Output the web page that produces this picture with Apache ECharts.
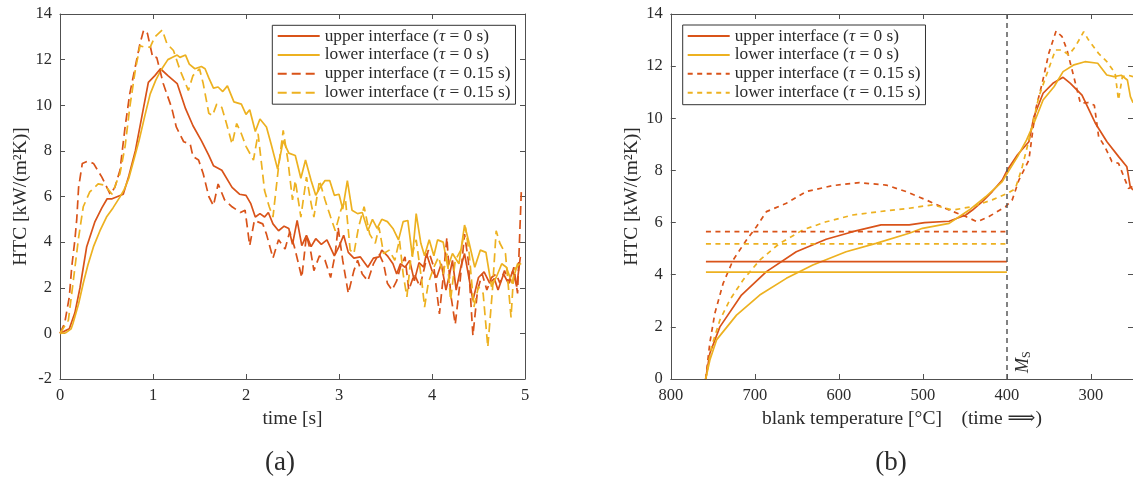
<!DOCTYPE html>
<html>
<head>
<meta charset="utf-8">
<script src="https://cdn.jsdelivr.net/npm/echarts@6/dist/echarts.min.js"></script>
<style>
  html, body { margin: 0; padding: 0; background: #fff; }
  #chart { width: 1133px; height: 483px; }
</style>
</head>
<body>
<div id="chart"></div>
<script>
// ---- (a) HTC over time, [time s, HTC kW/(m²K)] ----
const timeUpper0 = [[0,0],[0.1,0.2],[0.16,0.9],[0.215,2.0],[0.287,3.8],[0.376,4.9],[0.45,5.5],[0.507,5.9],[0.56,5.9],[0.62,6.0],[0.68,6.1],[0.74,6.9],[0.81,8.0],[0.88,9.5],[0.95,11.0],[1.02,11.3],[1.08,11.6],[1.16,11.3],[1.26,10.95],[1.35,9.85],[1.43,9.1],[1.52,8.45],[1.6,7.8],[1.65,7.35],[1.74,7.15],[1.85,6.4],[1.93,6.1],[2.0,6.05],[2.05,5.7],[2.1,5.1],[2.15,5.25],[2.2,5.1],[2.24,5.3],[2.29,4.8],[2.35,4.5],[2.41,4.7],[2.46,4.6],[2.5,3.9],[2.55,4.95],[2.6,3.85],[2.65,4.3],[2.7,3.8],[2.75,4.15],[2.81,3.9],[2.87,4.1],[2.95,3.4],[3.0,3.8],[3.05,4.3],[3.1,3.55],[3.16,3.3],[3.23,3.35],[3.31,2.9],[3.37,3.3],[3.43,3.35],[3.46,3.65],[3.52,3.4],[3.58,3.05],[3.62,2.6],[3.66,3.05],[3.71,2.9],[3.76,3.2],[3.81,2.3],[3.86,3.1],[3.91,2.9],[3.94,3.5],[4.0,2.75],[4.05,2.45],[4.1,3.05],[4.15,1.9],[4.19,2.6],[4.22,3.2],[4.26,1.9],[4.31,2.9],[4.35,3.5],[4.39,2.6],[4.44,1.45],[4.5,2.45],[4.56,2.7],[4.62,2.2],[4.67,2.4],[4.71,1.9],[4.77,2.6],[4.82,2.2],[4.87,2.75],[4.91,2.05],[4.95,3.35]];

const timeLower0 = [[0,0],[0.06,0.02],[0.12,0.2],[0.14,0.44],[0.2,1.3],[0.25,2.2],[0.3,3.0],[0.36,3.8],[0.43,4.5],[0.5,5.1],[0.57,5.5],[0.64,5.95],[0.69,6.3],[0.74,6.8],[0.8,7.7],[0.85,8.45],[0.91,9.5],[0.97,10.5],[1.03,11.1],[1.08,11.5],[1.16,12.0],[1.21,12.1],[1.26,12.2],[1.29,12.1],[1.35,12.2],[1.39,11.8],[1.45,11.6],[1.52,11.7],[1.56,11.6],[1.6,11.2],[1.65,10.75],[1.7,10.8],[1.75,10.6],[1.8,10.85],[1.87,10.15],[1.95,10.05],[2.0,9.6],[2.04,9.8],[2.1,8.85],[2.15,9.4],[2.22,9.05],[2.27,8.3],[2.34,7.2],[2.4,8.45],[2.46,7.9],[2.53,7.8],[2.59,6.8],[2.64,7.6],[2.7,6.7],[2.75,6.05],[2.79,6.35],[2.85,6.7],[2.9,6.7],[2.95,6.05],[3.0,6.1],[3.04,5.45],[3.09,6.7],[3.14,5.4],[3.2,5.25],[3.25,5.3],[3.31,4.5],[3.36,5.0],[3.41,4.6],[3.46,5.0],[3.52,4.9],[3.58,4.6],[3.64,4.1],[3.69,4.9],[3.74,4.95],[3.79,3.35],[3.83,5.25],[3.88,3.95],[3.92,3.4],[3.97,4.1],[4.02,3.4],[4.06,4.1],[4.12,4.0],[4.17,2.9],[4.22,3.5],[4.29,3.05],[4.35,4.75],[4.4,3.95],[4.46,2.9],[4.52,3.65],[4.58,3.55],[4.64,2.05],[4.69,2.45],[4.75,3.05],[4.8,2.9],[4.86,2.2],[4.92,3.05],[4.96,3.05]];

const timeUpper015 = [[0,0],[0.05,0.44],[0.1,1.6],[0.126,2.9],[0.16,4.1],[0.18,5.0],[0.2,6.4],[0.24,7.45],[0.3,7.55],[0.36,7.45],[0.45,6.85],[0.54,6.1],[0.59,6.4],[0.645,7.15],[0.7,9.05],[0.75,10.5],[0.81,11.7],[0.86,12.7],[0.9,13.3],[0.94,13.15],[0.997,12.1],[1.04,12.1],[1.11,10.95],[1.2,9.9],[1.25,9.05],[1.33,8.4],[1.4,8.3],[1.43,7.75],[1.49,7.6],[1.54,7.0],[1.6,6.0],[1.65,5.6],[1.7,6.55],[1.77,5.85],[1.85,5.55],[1.94,5.3],[1.99,5.4],[2.04,3.85],[2.09,4.95],[2.18,4.8],[2.22,4.35],[2.29,3.3],[2.35,4.1],[2.42,3.7],[2.47,4.45],[2.52,3.8],[2.6,2.45],[2.65,4.3],[2.7,3.5],[2.73,2.75],[2.79,3.4],[2.85,3.2],[2.91,2.45],[2.96,3.5],[2.99,4.65],[3.04,3.2],[3.1,1.75],[3.16,2.75],[3.2,3.2],[3.25,2.6],[3.31,2.3],[3.37,3.05],[3.43,3.5],[3.48,3.05],[3.52,2.2],[3.57,1.9],[3.62,2.3],[3.66,2.9],[3.71,3.35],[3.75,1.9],[3.81,2.6],[3.87,2.05],[3.92,2.9],[3.96,3.65],[4.02,2.9],[4.08,0.85],[4.12,2.45],[4.16,4.2],[4.2,1.75],[4.25,0.4],[4.3,2.2],[4.35,4.35],[4.39,3.2],[4.44,-0.1],[4.49,1.9],[4.54,2.6],[4.59,1.9],[4.64,2.45],[4.69,2.6],[4.73,2.2],[4.78,2.75],[4.83,2.2],[4.88,2.9],[4.92,1.75],[4.96,6.2]];

const timeLower015 = [[0,0],[0.02,0.05],[0.09,0.57],[0.14,2.2],[0.2,4.2],[0.25,5.55],[0.32,6.2],[0.41,6.55],[0.48,6.5],[0.56,6.1],[0.61,6.65],[0.645,7.0],[0.7,8.2],[0.75,9.9],[0.81,11.55],[0.86,12.6],[0.91,12.55],[0.97,12.55],[1.02,13.0],[1.1,13.3],[1.15,12.7],[1.22,12.4],[1.29,11.55],[1.38,10.65],[1.43,11.3],[1.5,11.6],[1.54,10.95],[1.6,9.65],[1.64,9.55],[1.685,10.05],[1.74,9.9],[1.79,9.2],[1.85,8.3],[1.9,9.2],[1.95,8.75],[2.0,8.2],[2.08,7.6],[2.13,8.75],[2.2,6.25],[2.25,5.55],[2.29,5.1],[2.35,7.3],[2.4,8.9],[2.45,7.6],[2.5,5.85],[2.53,6.7],[2.59,5.1],[2.65,6.85],[2.7,5.7],[2.73,5.1],[2.79,6.7],[2.85,5.85],[2.91,5.1],[2.96,4.5],[3.02,5.4],[3.07,5.85],[3.12,3.65],[3.16,3.5],[3.21,4.65],[3.27,5.55],[3.33,4.35],[3.39,3.95],[3.43,4.65],[3.48,3.5],[3.54,3.65],[3.6,3.2],[3.65,4.1],[3.69,2.6],[3.73,1.6],[3.77,3.2],[3.83,4.1],[3.89,2.3],[3.92,1.15],[3.96,2.2],[4.02,2.9],[4.07,3.35],[4.12,2.6],[4.16,3.5],[4.2,1.45],[4.25,3.2],[4.31,3.65],[4.36,4.65],[4.4,3.5],[4.45,1.15],[4.5,2.05],[4.55,1.75],[4.6,-0.6],[4.65,1.9],[4.69,4.5],[4.73,3.95],[4.79,3.5],[4.85,0.7],[4.88,2.75],[4.94,3.05]];

// ---- (b) HTC over blank temperature, [°C, HTC kW/(m²K)] ----
const tempUpper0 = [[758.5,0],[753.5,0.99],[741.6,2.0],[715.9,3.22],[686.2,4.12],[650.7,4.88],[615.1,5.36],[583.5,5.65],[549.8,5.91],[516.3,5.91],[497.9,6.0],[468.8,6.05],[449,6.29],[441,6.48],[429.3,6.8],[417.5,7.19],[405.6,7.63],[399.5,8.02],[387.4,8.6],[373.9,9.1],[367.9,10.06],[357,10.96],[345.3,11.34],[333.2,11.57],[324.5,11.34],[310.7,10.89],[294.8,9.81],[281,9.1],[267.1,8.53],[257.3,8.14],[253.3,7.38],[250,7.25]];

const tempLower0 = [[758.5,0],[753.5,0.73],[745.6,1.5],[721.8,2.45],[694.2,3.22],[662.5,3.86],[631,4.37],[591.4,4.88],[555.8,5.2],[516.3,5.59],[500.5,5.78],[468.8,5.97],[445,6.48],[425.3,6.99],[405.6,7.57],[399.5,7.9],[387.4,8.53],[376.6,9.17],[367.9,9.81],[357,10.7],[344,11.21],[333.2,11.79],[320.2,12.05],[307.2,12.17],[292,12.11],[281.2,11.66],[272.6,11.6],[264,11.65],[256.7,11.47],[253.1,10.83],[250,10.6]];

const tempUpper015 = [[758.5,0],[753.5,1.4],[747.6,2.52],[737.7,3.67],[725.9,4.56],[710,5.33],[698.1,5.84],[686.2,6.42],[662.5,6.74],[638.8,7.19],[607.2,7.42],[575.6,7.53],[543.9,7.44],[520.2,7.19],[496.4,6.87],[468.8,6.48],[449,6.23],[435.2,6.03],[421.4,6.23],[401.6,6.61],[393.7,6.87],[385.8,7.63],[373.9,8.4],[366,10.32],[358.1,11.34],[350.2,12.49],[341.5,13.35],[334.4,13.13],[328.5,12.62],[320.5,11.6],[312.6,10.58],[303,10.6],[296,10.5],[290.9,9.3],[283,8.88],[275.1,8.34],[267.2,8.27],[259.3,7.63],[255.3,7.31],[250,7.4]];

const tempLower015 = [[758.5,0],[751.5,1.24],[741.6,2.26],[729.8,3.03],[714,3.8],[694.2,4.56],[670.5,5.2],[642.8,5.72],[615.1,6.03],[583.5,6.29],[551.8,6.42],[516.3,6.55],[488.6,6.68],[464.9,6.48],[441.2,6.61],[417.5,6.87],[399.6,7.12],[390,7.3],[381.8,8.14],[371.9,9.42],[362,10.83],[352.2,11.73],[342.3,12.62],[334.4,12.62],[326.5,12.43],[318.6,12.75],[308.7,13.32],[302.8,13.0],[291,12.49],[281.1,12.17],[271.3,11.73],[267.3,10.7],[262.6,11.6],[255.5,11.65],[250,11.6]];

// mean HTC levels up to the martensite start temperature
const meanRange = [758.2, 400];
const meanUpper0 = 4.5;
const meanLower0 = 4.1;
const meanUpper015 = 5.65;
const meanLower015 = 5.18;
const msTemperature = 400;

// axis ticks
const tempTicks = [300, 400, 500, 600, 700, 800];

const seriesNames = [
  'upper interface (τ = 0 s)',
  'lower interface (τ = 0 s)',
  'upper interface (τ = 0.15 s)',
  'lower interface (τ = 0.15 s)'
];
const panelLabels = ['(a)', '(b)'];

const FONT = '"Liberation Serif", "DejaVu Serif", serif';
const RED = '#D95319';
const YEL = '#EDB120';
const AXIS = '#505050';
const TEXT = '#2b2b2b';
const DASH_A = [9, 5];
const DASH_B = [5, 4.5];
const LW = 1.7;

function axisBase(extra) {
  return Object.assign({
    type: 'value',
    splitLine: { show: false },
    axisLine: { show: true, onZero: false, lineStyle: { color: AXIS, width: 1 } },
    axisTick: { show: true, inside: true, length: 5, lineStyle: { color: AXIS, width: 1 } },
    axisLabel: { color: TEXT, fontFamily: FONT, fontSize: 16.5, margin: 8 },
    nameTextStyle: { color: TEXT, fontFamily: FONT, fontSize: 19.5 }
  }, extra);
}

function lineSeries(name, data, color, dash, xi, yi) {
  return {
    name: name,
    type: 'line',
    xAxisIndex: xi,
    yAxisIndex: yi,
    data: data,
    symbol: 'none',
    smooth: false,
    silent: true,
    lineStyle: { color: color, width: LW, type: dash },
    itemStyle: { color: color },
    emphasis: { disabled: true }
  };
}

function meanSeries(name, level, color, dash) {
  return lineSeries(name, [[meanRange[0], level], [meanRange[1], level]], color, dash, 2, 2);
}

const legendText = {
  color: TEXT, fontFamily: FONT, fontSize: 17.3, lineHeight: 17,
  rich: { i: { fontStyle: 'italic', fontFamily: FONT, fontSize: 17.3, lineHeight: 17, color: TEXT } }
};
const legendFormatter = function (name) { return name.replace('τ', '{i|τ}'); };
// legend entries show only the line sample
const legendItemStyle = { color: 'rgba(0,0,0,0)', borderWidth: 0, opacity: 0 };

const msSeries = meanSeries('upper mean (τ = 0 s)', meanUpper0, RED, 'solid');
msSeries.markLine = {
  silent: true,
  symbol: 'none',
  animation: false,
  lineStyle: { color: '#5a5a5a', width: 1.5, type: [5, 4] },
  label: {
    show: true,
    position: 'insideStartBottom',
    distance: 6,
    formatter: '{m|M}{s|S}',
    rich: {
      m: { fontFamily: FONT, fontStyle: 'italic', fontSize: 18, color: TEXT },
      s: { fontFamily: FONT, fontSize: 12, color: TEXT, padding: [8, 0, 0, 0] }
    }
  },
  data: [{ xAxis: msTemperature }]
};

const option = {
  animation: false,
  backgroundColor: '#fff',
  grid: [
    { left: 60, top: 14, width: 465, height: 365 },
    { left: 670.8, top: 14, width: 463.7, height: 365 }
  ],
  xAxis: [
    axisBase({ gridIndex: 0, position: 'bottom', min: 0, max: 5, interval: 1,
      name: 'time [s]', nameLocation: 'middle', nameGap: 29 }),
    axisBase({ gridIndex: 0, position: 'top', min: 0, max: 5, interval: 1,
      axisLabel: { show: false } }),
    axisBase({ gridIndex: 1, position: 'bottom', min: 250, max: 800, inverse: true,
      axisLabel: { color: TEXT, fontFamily: FONT, fontSize: 16.5, margin: 8, customValues: tempTicks },
      axisTick: { show: true, inside: true, length: 5, lineStyle: { color: AXIS, width: 1 }, customValues: tempTicks },
      name: 'blank temperature [°C]    (time ⟹)', nameLocation: 'middle', nameGap: 29 }),
    axisBase({ gridIndex: 1, position: 'top', min: 250, max: 800, inverse: true,
      axisLabel: { show: false, customValues: tempTicks },
      axisTick: { show: true, inside: true, length: 5, lineStyle: { color: AXIS, width: 1 }, customValues: tempTicks } })
  ],
  yAxis: [
    axisBase({ gridIndex: 0, position: 'left', min: -2, max: 14, interval: 2,
      name: 'HTC [kW/(m²K)]', nameLocation: 'middle', nameGap: 29 }),
    axisBase({ gridIndex: 0, position: 'right', min: -2, max: 14, interval: 2,
      axisLabel: { show: false } }),
    axisBase({ gridIndex: 1, position: 'left', min: 0, max: 14, interval: 2,
      name: 'HTC [kW/(m²K)]', nameLocation: 'middle', nameGap: 29 }),
    axisBase({ gridIndex: 1, position: 'right', min: 0, max: 14, interval: 2,
      axisLabel: { show: false } })
  ],
  legend: [
    {
      left: 272.3, top: 25.3, orient: 'vertical',
      data: seriesNames,
      itemWidth: 42, itemHeight: 14, itemGap: 1.9,
      padding: [2.2, 5, 3, 4.4],
      backgroundColor: '#fff', borderColor: '#333', borderWidth: 1, borderRadius: 0,
      selectedMode: false,
      itemStyle: legendItemStyle,
      textStyle: legendText,
      formatter: legendFormatter
    },
    {
      left: 682.7, top: 25, orient: 'vertical',
      data: [
        { name: seriesNames[0] },
        { name: seriesNames[1] },
        { name: seriesNames[2], lineStyle: { type: DASH_B } },
        { name: seriesNames[3], lineStyle: { type: DASH_B } }
      ],
      itemWidth: 42, itemHeight: 14, itemGap: 1.9,
      padding: [2.5, 5, 3.5, 4],
      backgroundColor: '#fff', borderColor: '#333', borderWidth: 1, borderRadius: 0,
      selectedMode: false,
      itemStyle: legendItemStyle,
      textStyle: legendText,
      formatter: legendFormatter
    }
  ],
  graphic: [
    { type: 'text', x: 280, y: 463, silent: true,
      style: { text: panelLabels[0], font: '27px ' + FONT, fill: TEXT, align: 'center', verticalAlign: 'middle', textAlign: 'center', textVerticalAlign: 'middle' } },
    { type: 'text', x: 891, y: 463, silent: true,
      style: { text: panelLabels[1], font: '27px ' + FONT, fill: TEXT, align: 'center', verticalAlign: 'middle', textAlign: 'center', textVerticalAlign: 'middle' } }
  ],
  series: [
    lineSeries(seriesNames[0], timeUpper0, RED, 'solid', 0, 0),
    lineSeries(seriesNames[1], timeLower0, YEL, 'solid', 0, 0),
    lineSeries(seriesNames[2], timeUpper015, RED, DASH_A, 0, 0),
    lineSeries(seriesNames[3], timeLower015, YEL, DASH_A, 0, 0),

    lineSeries(seriesNames[0], tempUpper0, RED, 'solid', 2, 2),
    lineSeries(seriesNames[1], tempLower0, YEL, 'solid', 2, 2),
    lineSeries(seriesNames[2], tempUpper015, RED, DASH_B, 2, 2),
    lineSeries(seriesNames[3], tempLower015, YEL, DASH_B, 2, 2),

    msSeries,
    meanSeries('lower mean (τ = 0 s)', meanLower0, YEL, 'solid'),
    meanSeries('upper mean (τ = 0.15 s)', meanUpper015, RED, DASH_B),
    meanSeries('lower mean (τ = 0.15 s)', meanLower015, YEL, DASH_B)
  ]
};

const chart = echarts.init(document.getElementById('chart'), null, { renderer: 'canvas' });
chart.setOption(option);
</script>
</body>
</html>
